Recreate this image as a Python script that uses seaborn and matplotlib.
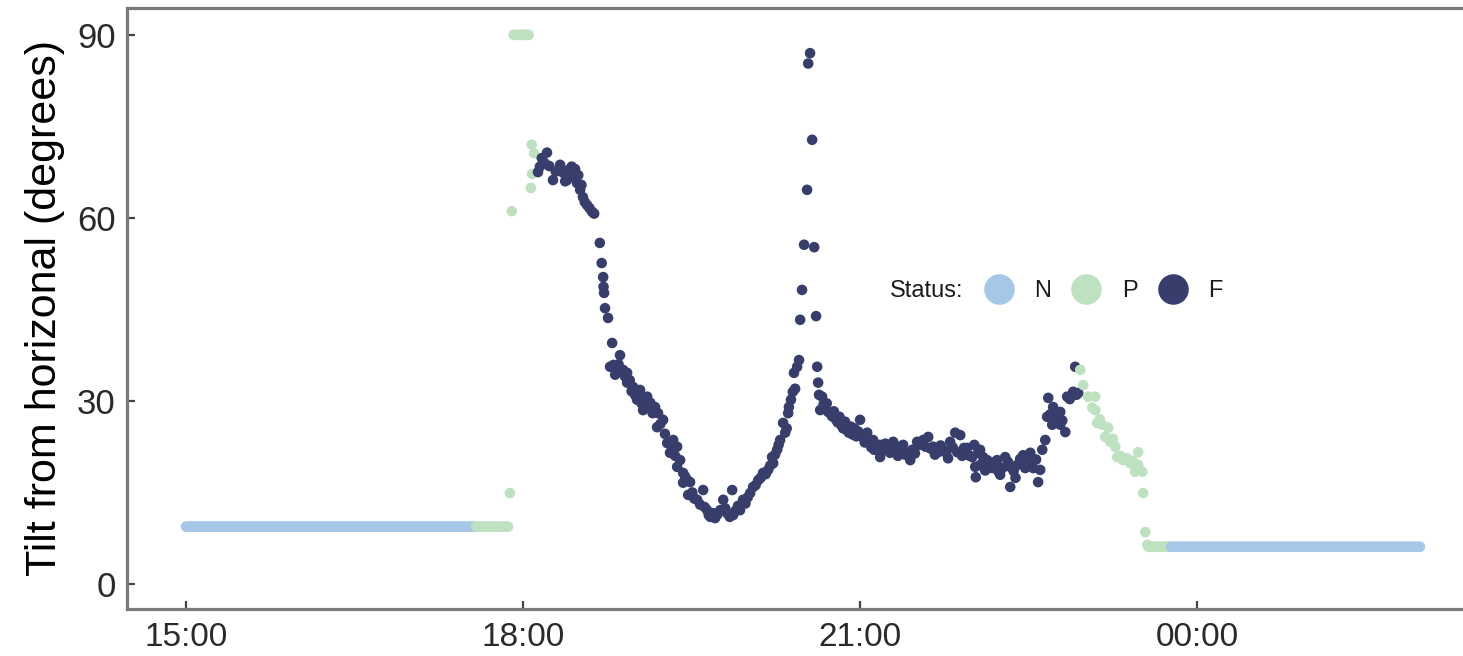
import matplotlib
matplotlib.use("Agg")
import matplotlib.pyplot as plt
import seaborn as sns
import pandas as pd
from matplotlib.lines import Line2D

# ---------------- data (minutes after 15:00, tilt in degrees) ----------------
status_order = ["N", "P", "F"]
status_colors = ["#a6c7e8", "#bee2c0", "#383e6b"]

# early resting period (status N), logged each minute, flat at 9.4 deg
n_early_min = list(range(0, 155))
n_early_tilt = [9.4] * 155

# early P period
p_early_min = list(range(155, 173)) + [173.0, 174.0,
               175, 176, 177, 178, 179, 180, 181, 182, 183,
               184.2, 184.6, 184.8, 185.9]
p_early_tilt = [9.4] * 18 + [14.9, 61.1,
                90, 90, 90, 90, 90, 90, 90, 90, 90,
                64.9, 72.0, 67.2, 70.6]

# F period
f_min = [
    188.0, 189.0, 190.0, 191.5, 192.8, 194.0, 196.0, 197.5, 199.8, 201.4,
    202.5, 203.5, 204.5, 206.0, 207.0, 207.8, 208.9, 209.5, 210.5, 211.2,
    212.0, 213.0, 214.2, 215.5, 216.9, 218.0, 221.0, 222.0, 222.8, 223.0,
    223.3, 223.8, 225.4, 226.5, 227.6, 228.3, 229.2, 230.2, 231.0, 231.8,
    232.5, 233.4, 234.5, 235.6, 235.6, 237.0, 238.0, 238.8, 239.8, 240.9,
    241.5, 242.5, 243.3, 244.1, 245.2, 246.3, 247.2, 248.0, 249.2, 250.5,
    251.6, 252.1, 253.3, 254.8, 255.8, 257.0, 258.5, 259.3, 260.2, 261.2,
    262.3, 262.3, 263.9, 265.5, 265.5, 266.6, 267.8, 268.2, 269.2, 270.4,
    271.5, 273.0, 274.6, 276.2, 277.0, 278.3, 279.2, 280.0, 281.5, 282.6,
    283.8, 285.3, 286.9, 288.0, 289.0, 290.4, 291.7, 292.2, 293.5, 294.8,
    295.9, 297.5, 298.8, 300.0, 301.3, 302.9, 304.2, 305.6, 306.9, 308.2,
    309.6, 310.9, 312.0, 313.0, 313.6, 314.6, 315.7, 316.5, 317.3, 318.9,
    320.0, 320.8, 321.6, 322.0, 323.1, 324.1, 324.7, 325.3, 326.4, 327.4,
    328.0, 329.0, 330.1, 331.7, 332.3, 333.3, 334.4, 335.5, 336.5, 337.1,
    337.6, 338.1, 338.7, 339.7, 340.5, 341.3, 342.2, 343.0, 344.0, 345.0,
    346.0, 347.0, 348.0, 349.0, 350.0, 351.0, 352.0, 353.0, 354.0, 355.0,
    356.0, 357.0, 358.0, 359.0, 360.0, 361.5, 362.5, 363.8, 365.0, 366.0,
    367.0, 367.5, 369.0, 370.7, 370.7, 372.0, 373.5, 374.5, 376.0, 377.7,
    379.0, 380.2, 381.4, 383.0, 384.0, 385.2, 386.8, 388.0, 389.3, 390.5,
    392.0, 393.7, 395.0, 396.4, 397.6, 399.0, 400.0, 401.7, 403.0, 404.4,
    406.0, 407.0, 408.1, 409.5, 410.8, 411.9, 413.5, 414.5, 415.5, 417.2,
    418.5, 419.9, 421.0, 421.5, 421.8, 423.0, 424.1, 424.1, 425.7, 426.8,
    427.9, 429.0, 430.6, 432.0, 433.2, 434.0, 434.8, 436.0, 437.5, 439.0,
    440.2, 440.2, 442.0, 443.0, 443.9, 445.5, 447.1, 448.2, 449.5, 450.9,
    452.5, 454.0, 455.1, 456.2, 457.3, 458.9, 459.9, 460.5, 461.5, 462.6,
    463.1, 464.0, 465.3, 466.9, 466.9, 468.0, 469.6, 470.6, 472.0, 473.8,
    474.9, 475.5, 476.5,
]
f_tilt = [
    67.5, 68.4, 69.8, 69.0, 70.7, 68.5, 66.2, 67.6, 68.7, 67.4,
    66.0, 66.2, 67.9, 68.4, 66.8, 68.0, 65.7, 67.0, 64.6, 65.4,
    63.4, 62.6, 62.1, 61.6, 61.0, 60.7, 55.9, 52.6, 50.3, 48.7,
    47.7, 45.2, 43.6, 35.6, 39.5, 35.9, 34.3, 35.4, 36.0, 37.5,
    34.8, 35.1, 34.0, 34.6, 33.0, 33.4, 31.6, 32.3, 31.0, 30.2,
    31.0, 31.8, 29.6, 28.5, 30.0, 30.7, 29.2, 29.7, 28.0, 29.0,
    25.7, 28.0, 26.2, 26.9, 24.6, 23.1, 21.5, 22.6, 23.6, 21.0,
    22.5, 19.2, 20.3, 18.2, 16.6, 17.6, 17.0, 14.6, 16.7, 15.0,
    14.0, 13.8, 13.0, 15.4, 12.6, 12.1, 11.3, 11.0, 11.6, 10.8,
    11.4, 12.1, 13.8, 12.4, 11.6, 11.0, 15.4, 11.3, 12.0, 12.8,
    12.1, 13.8, 13.2, 14.2, 14.9, 15.9, 16.2, 17.0, 17.4, 18.2,
    18.0, 18.7, 19.4, 20.8, 19.8, 21.2, 22.0, 22.8, 23.6, 26.4,
    24.8, 25.5, 28.0, 29.0, 30.2, 31.5, 34.6, 32.0, 35.6, 36.7,
    43.3, 48.2, 55.6, 64.6, 85.3, 87.0, 72.8, 55.2, 43.9, 35.6,
    33.0, 31.0, 28.5, 30.7, 29.4, 28.9, 29.6, 28.2, 28.0, 27.5,
    28.3, 27.0, 26.5, 27.4, 26.0, 25.5, 26.6, 25.2, 24.8, 25.8,
    24.5, 25.5, 24.2, 25.0, 26.9, 24.0, 23.2, 24.8, 23.5, 22.4,
    23.6, 22.0, 22.6, 22.8, 20.8, 21.8, 23.0, 22.5, 21.5, 23.3,
    22.0, 21.0, 22.5, 22.8, 21.2, 21.5, 20.3, 22.0, 21.4, 23.3,
    22.8, 23.6, 22.5, 24.1, 22.2, 22.5, 21.2, 21.6, 22.7, 22.0,
    21.5, 20.6, 23.3, 22.4, 24.8, 21.6, 24.4, 21.0, 22.3, 22.3,
    21.0, 20.8, 22.8, 19.2, 17.5, 21.5, 22.0, 19.5, 20.8, 18.6,
    20.3, 19.5, 19.0, 20.0, 20.3, 18.4, 17.9, 19.0, 20.8, 20.0,
    15.9, 19.2, 18.5, 17.4, 19.5, 20.5, 21.1, 19.0, 20.0, 21.5,
    19.0, 20.4, 16.7, 18.7, 22.0, 23.6, 27.4, 30.5, 27.8, 26.1,
    29.0, 27.2, 28.0, 26.1, 28.2, 26.8, 24.9, 30.7, 30.3, 31.5,
    35.6, 31.0, 31.3,
]

# late P period
p_late_min = [477.6, 479.2, 481.8, 484.0, 485.6, 485.6, 486.6, 488.0, 489.3,
              490.9, 492.5, 493.6, 495.0, 496.3, 497.3, 499.0, 500.5, 502.5,
              504.3, 505.5, 506.9, 508.5, 508.5, 510.7, 511.2, 512.3, 513.4] \
    + list(range(514, 526))
p_late_tilt = [35.1, 32.6, 30.7, 28.9, 30.7, 28.5, 26.4, 27.0, 26.1,
               24.1, 25.6, 23.3, 23.8, 22.5, 20.8, 21.0, 20.3, 20.6,
               19.8, 20.2, 18.4, 21.6, 19.5, 18.4, 14.9, 8.5, 6.4] + [6.1] * 12

# late resting period (status N), flat at 6.1 deg
n_late_min = list(range(526, 660))
n_late_tilt = [6.1] * 134

tick_hours = [15, 18, 21, 24]
tick_labels = ["15:00", "18:00", "21:00", "00:00"]
y_ticks = [0, 30, 60, 90]

# ---------------- build table ----------------
segments = [("N", n_early_min, n_early_tilt), ("P", p_early_min, p_early_tilt),
            ("F", f_min, f_tilt), ("P", p_late_min, p_late_tilt),
            ("N", n_late_min, n_late_tilt)]
frames = []
for st, mins, tilts in segments:
    frames.append(pd.DataFrame({"minute": mins, "tilt": tilts, "Status": st}))
df = pd.concat(frames, ignore_index=True)
df["hour"] = 15 + df["minute"] / 60.0

palette = dict(zip(status_order, status_colors))

# ---------------- plot ----------------
sns.set_theme(style="white")
plt.rcParams["font.family"] = ["Liberation Sans", "DejaVu Sans"]

W, H = 1463, 656
fig = plt.figure(figsize=(W / 100, H / 100), dpi=100)
ax = fig.add_axes([127 / W, 1 - 609 / H, (W - 127) / W, (609 - 8) / H])

sns.scatterplot(data=df, x="hour", y="tilt", hue="Status", hue_order=status_order,
                palette=palette, s=58, linewidth=0, legend=False, ax=ax, zorder=3)

ax.set_xlim(15 + (-31.5) / 60, 15 + 682 / 60)
ax.set_ylim(-4.1, 94.4)
ax.set_xticks(tick_hours)
ax.set_xticklabels(tick_labels)
ax.set_yticks(y_ticks)
ax.set_xlabel("")
ax.set_ylabel("Tilt from horizonal (degrees)", fontsize=31, color="black", labelpad=9)

spine_col = "#7a7a7a"
for side in ["left", "bottom", "top"]:
    ax.spines[side].set_visible(True)
    ax.spines[side].set_color(spine_col)
    ax.spines[side].set_linewidth(2.3)
ax.spines["right"].set_visible(False)

ax.tick_params(axis="both", direction="in", length=6, width=1.6, color="#444444",
               labelsize=24, labelcolor="#2a2a2a", left=True, bottom=True)
ax.tick_params(axis="y", labelsize=25, pad=8)
ax.tick_params(axis="x", pad=9)

handles = [Line2D([], [], marker="o", linestyle="", markersize=22,
                  markerfacecolor=c, markeredgewidth=0) for c in status_colors]
leg = ax.legend(handles, status_order, ncol=3, loc="center",
                bbox_to_anchor=((1103 - 127) / (W - 127), (609 - 291) / 601),
                frameon=False, fontsize=17, handletextpad=0.85,
                columnspacing=0.85, handlelength=1.3, borderpad=0)
for t in leg.get_texts():
    t.set_color("#1a1a1a")
ax.text((963 - 127) / (W - 127), (609 - 291) / 601, "Status:", transform=ax.transAxes,
        ha="right", va="center", fontsize=17, color="#1a1a1a")

fig.savefig("out.png", dpi=100)
